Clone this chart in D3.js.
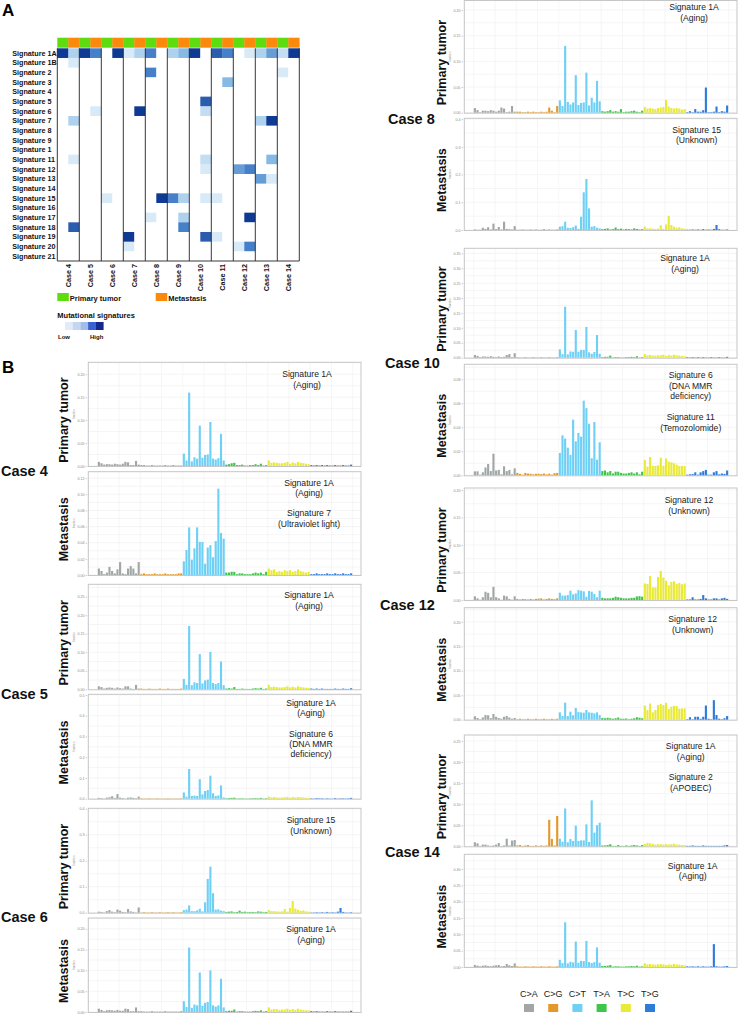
<!DOCTYPE html>
<html><head><meta charset="utf-8">
<script src="https://cdn.jsdelivr.net/npm/d3@7"></script>
<style>body{margin:0;background:#fff}svg{display:block;font-family:"Liberation Sans",Arial,sans-serif}</style>
</head><body>
<svg id="c" width="741" height="1023"></svg>
<script>
// ---------- DATA ----------
const sigNames = ["Signature 1A","Signature 1B","Signature 2","Signature 3","Signature 4","Signature 5","Signature 6","Signature 7","Signature 8","Signature 9","Signature 1","Signature 11","Signature 12","Signature 13","Signature 14","Signature 15","Signature 16","Signature 17","Signature 18","Signature 19","Signature 20","Signature 21"];
const caseNames = ["Case 4","Case 5","Case 6","Case 7","Case 8","Case 9","Case 10","Case 11","Case 12","Case 13","Case 14"];
const sampleTypes = ["Primary tumor","Metastasis"];
const heatLevels = [
 [5,2,5,4,0,5,1,2,4,0,2,3,5,0,4.5,4,0,1,2,3.5,1.5,5],
 [0,1,0,0,0,0,0,0,0,0,0,0,0,0,0,0,0,0,0,0,0,0],
 [0,0,0,0,0,0,0,0,4,0,0,0,0,0,0,0,0,0,0,0,1,0],
 [0,0,0,0,0,0,0,0,0,0,0,0,0,0,0,3,0,0,0,0,0,0],
 [0,0,0,0,0,0,0,0,0,0,0,0,0,0,0,0,0,0,0,0,0,0],
 [0,0,0,0,0,0,0,0,0,0,0,0,0,4.5,0,0,0,0,0,0,0,0],
 [0,0,0,1,0,0,0,5,0,0,0,0,0,1.5,0,0,0,0,0,0,0,0],
 [0,2,0,0,0,0,0,0,0,0,0,0,0,0,0,0,0,0,2,5,0,0],
 [0,0,0,0,0,0,0,0,0,0,0,0,0,0,0,0,0,0,0,0,0,0],
 [0,0,0,0,0,0,0,0,0,0,0,0,0,0,0,0,0,0,0,0,0,0],
 [0,0,0,0,0,0,0,0,0,0,0,0,0,0,0,0,0,0,0,0,0,0],
 [0,1,0,0,0,0,0,0,0,0,0,0,0,1.5,0,0,0,0,0,3,0,0],
 [0,0,0,0,0,0,0,0,0,0,0,0,0,1,0,0,3.5,4,0,0,0,0],
 [0,0,0,0,0,0,0,0,0,0,0,0,0,0,0,0,0,0,3.5,1,0,0],
 [0,0,0,0,0,0,0,0,0,0,0,0,0,0,0,0,0,0,0,0,0,0],
 [0,0,0,0,1,0,0,0,0,5,4,2,0,1,1,0,0,0,0,0,0,0],
 [0,0,0,0,0,0,0,0,0,0,0,0,0,0,0,0,0,0,0,0,0,0],
 [0,0,0,0,0,0,0,0,1,0,0,2,0,0,0,0,0,5,0,0,0,0],
 [0,4.5,0,0,0,0,0,0,0,0,0,4,0,0,0,0,0,0,0,0,0,0],
 [0,0,0,0,0,0,5,0,0,0,0,0,0,4.5,1,0,0,0,0,0,0,0],
 [0,0,0,0,0,0,1,0,0,0,0,0,0,0,0,0,1,4,0,0,0,0],
 [0,0,0,0,0,0,0,0,0,0,0,0,0,0,0,0,0,0,0,0,0,0]
];
const mutTypes = ["C>A","C>G","C>T","T>A","T>C","T>G"];

const c4p = [0.009,0.006,0.003,0.004,0.004,0.003,0.005,0.004,0.003,0.005,0.009,0.008,0.002,0.002,0.011,0.003,
 0.002,0.002,0.001,0.001,0.002,0.001,0.001,0.001,0.001,0.002,0.001,0.001,0.002,0.001,0.001,0.001,
 0.027,0.012,0.160,0.010,0.019,0.016,0.088,0.018,0.024,0.025,0.096,0.016,0.014,0.017,0.070,0.012,
 0.003,0.004,0.006,0.007,0.002,0.002,0.003,0.001,0.001,0.002,0.002,0.004,0.002,0.005,0.001,0.002,
 0.012,0.007,0.008,0.007,0.006,0.006,0.007,0.009,0.005,0.008,0.006,0.009,0.007,0.006,0.005,0.004,
 0.002,0.001,0.002,0.001,0.002,0.001,0.002,0.001,0.001,0.002,0.001,0.001,0.002,0.001,0.001,0.003];
const c4m = [0.008,0.005,0.001,0.003,0.010,0.005,0.002,0.007,0.016,0.002,0.001,0.008,0.011,0.008,0.002,0.016,
 0.001,0.002,0.001,0.001,0.001,0.002,0.001,0.001,0.001,0.002,0.001,0.001,0.001,0.001,0.002,0.002,
 0.017,0.031,0.059,0.019,0.033,0.059,0.041,0.041,0.014,0.034,0.037,0.022,0.042,0.107,0.052,0.045,
 0.003,0.003,0.004,0.004,0.001,0.002,0.002,0.001,0.001,0.001,0.002,0.003,0.002,0.003,0.001,0.004,
 0.008,0.006,0.007,0.004,0.005,0.004,0.006,0.005,0.006,0.004,0.005,0.007,0.005,0.004,0.003,0.004,
 0.001,0.001,0.002,0.001,0.001,0.001,0.002,0.001,0.001,0.002,0.001,0.001,0.002,0.001,0.001,0.002];
const c5p = [0.008,0.006,0.002,0.004,0.005,0.004,0.002,0.005,0.003,0.002,0.008,0.008,0.002,0.001,0.012,0.002,
 0.002,0.001,0.001,0.002,0.001,0.001,0.001,0.002,0.001,0.001,0.002,0.001,0.001,0.001,0.001,0.002,
 0.028,0.012,0.171,0.011,0.019,0.017,0.095,0.016,0.024,0.026,0.101,0.017,0.014,0.017,0.075,0.011,
 0.002,0.003,0.002,0.006,0.001,0.001,0.002,0.001,0.001,0.001,0.002,0.003,0.002,0.004,0.001,0.002,
 0.012,0.006,0.007,0.006,0.005,0.005,0.006,0.008,0.005,0.007,0.005,0.008,0.006,0.005,0.004,0.004,
 0.002,0.001,0.002,0.001,0.002,0.001,0.001,0.001,0.001,0.002,0.001,0.001,0.002,0.001,0.001,0.003];
const c5m = [0.004,0.003,0.001,0.005,0.007,0.012,0.004,0.022,0.005,0.003,0.001,0.005,0.006,0.004,0.002,0.010,
 0.002,0.001,0.001,0.002,0.001,0.001,0.002,0.001,0.001,0.001,0.002,0.001,0.001,0.001,0.001,0.002,
 0.030,0.010,0.143,0.013,0.015,0.013,0.094,0.021,0.037,0.042,0.111,0.026,0.013,0.016,0.064,0.006,
 0.002,0.003,0.004,0.005,0.001,0.002,0.002,0.001,0.001,0.002,0.002,0.003,0.002,0.004,0.001,0.002,
 0.010,0.006,0.008,0.006,0.005,0.006,0.007,0.009,0.005,0.008,0.006,0.008,0.007,0.006,0.005,0.004,
 0.002,0.001,0.003,0.002,0.002,0.001,0.002,0.001,0.001,0.003,0.001,0.002,0.002,0.001,0.002,0.004];
const c6p = [0.004,0.003,0.001,0.006,0.010,0.004,0.002,0.012,0.008,0.003,0.002,0.014,0.005,0.003,0.001,0.020,
 0.001,0.002,0.001,0.001,0.002,0.001,0.001,0.002,0.001,0.001,0.002,0.001,0.002,0.001,0.001,0.002,
 0.010,0.012,0.028,0.006,0.006,0.009,0.015,0.005,0.040,0.130,0.177,0.075,0.012,0.013,0.008,0.006,
 0.003,0.004,0.005,0.002,0.003,0.008,0.003,0.004,0.002,0.003,0.003,0.002,0.005,0.004,0.002,0.003,
 0.010,0.006,0.006,0.005,0.004,0.005,0.014,0.004,0.018,0.045,0.016,0.011,0.007,0.009,0.005,0.004,
 0.001,0.001,0.002,0.001,0.002,0.001,0.003,0.001,0.002,0.001,0.004,0.018,0.003,0.001,0.001,0.002];
const c6m = [0.008,0.005,0.002,0.004,0.005,0.004,0.003,0.005,0.003,0.003,0.008,0.007,0.002,0.002,0.011,0.002,
 0.002,0.001,0.001,0.001,0.002,0.001,0.001,0.001,0.001,0.002,0.001,0.001,0.001,0.001,0.001,0.002,
 0.026,0.012,0.155,0.010,0.018,0.016,0.095,0.015,0.022,0.024,0.100,0.016,0.013,0.016,0.080,0.011,
 0.002,0.003,0.003,0.006,0.001,0.002,0.002,0.001,0.001,0.001,0.002,0.003,0.002,0.004,0.001,0.002,
 0.011,0.006,0.007,0.007,0.005,0.006,0.006,0.008,0.005,0.007,0.005,0.008,0.006,0.005,0.004,0.004,
 0.002,0.001,0.002,0.001,0.001,0.001,0.002,0.001,0.001,0.002,0.001,0.001,0.001,0.001,0.001,0.003];
const c8p = [0.009,0.005,0.001,0.004,0.004,0.003,0.005,0.004,0.002,0.004,0.010,0.008,0.001,0.002,0.013,0.002,
 0.002,0.002,0.001,0.001,0.002,0.001,0.002,0.001,0.001,0.002,0.001,0.002,0.010,0.004,0.001,0.013,
 0.024,0.013,0.130,0.021,0.016,0.020,0.073,0.015,0.019,0.020,0.078,0.014,0.029,0.020,0.062,0.022,
 0.003,0.002,0.003,0.005,0.002,0.003,0.002,0.007,0.001,0.002,0.002,0.003,0.004,0.002,0.001,0.004,
 0.011,0.008,0.009,0.008,0.007,0.009,0.010,0.011,0.025,0.012,0.009,0.008,0.009,0.008,0.006,0.007,
 0.001,0.003,0.001,0.007,0.002,0.002,0.005,0.049,0.001,0.001,0.002,0.012,0.001,0.003,0.002,0.014];
const c8m = [0.002,0.001,0.001,0.008,0.004,0.010,0.002,0.023,0.003,0.011,0.002,0.030,0.004,0.003,0.002,0.014,
 0.001,0.001,0.002,0.001,0.001,0.002,0.001,0.002,0.001,0.001,0.003,0.001,0.002,0.001,0.001,0.002,
 0.012,0.014,0.030,0.008,0.007,0.010,0.016,0.004,0.048,0.136,0.184,0.078,0.012,0.014,0.008,0.006,
 0.003,0.004,0.006,0.002,0.003,0.009,0.003,0.005,0.002,0.004,0.003,0.002,0.006,0.004,0.002,0.003,
 0.012,0.006,0.006,0.005,0.004,0.005,0.017,0.004,0.020,0.051,0.018,0.012,0.008,0.010,0.006,0.005,
 0.001,0.001,0.002,0.001,0.002,0.001,0.003,0.001,0.002,0.001,0.004,0.018,0.003,0.001,0.001,0.002];
const c10p = [0.009,0.006,0.002,0.004,0.004,0.003,0.005,0.003,0.002,0.004,0.002,0.003,0.009,0.012,0.002,0.015,
 0.002,0.001,0.001,0.002,0.001,0.001,0.002,0.001,0.001,0.002,0.001,0.001,0.002,0.001,0.001,0.002,
 0.028,0.012,0.171,0.011,0.021,0.020,0.093,0.020,0.026,0.026,0.103,0.018,0.013,0.019,0.076,0.013,
 0.002,0.003,0.003,0.007,0.001,0.002,0.002,0.001,0.001,0.002,0.002,0.003,0.002,0.005,0.001,0.002,
 0.012,0.008,0.009,0.007,0.007,0.008,0.008,0.010,0.006,0.009,0.007,0.010,0.008,0.007,0.006,0.005,
 0.002,0.001,0.002,0.001,0.002,0.001,0.002,0.001,0.001,0.002,0.001,0.001,0.002,0.001,0.001,0.003];
const c10m = [0.0033,0.0033,0.0005,0.0025,0.0065,0.0094,0.0035,0.018,0.004,0.0045,0.0008,0.0075,0.0035,0.0045,0.0008,0.0058,
 0.002,0.0012,0.0005,0.002,0.0015,0.0013,0.0008,0.0012,0.0013,0.001,0.0015,0.0008,0.0013,0.0006,0.0018,0.002,
 0.0186,0.0333,0.0306,0.023,0.017,0.0464,0.0283,0.0353,0.0322,0.0622,0.056,0.043,0.0142,0.0444,0.013,0.0275,
 0.0035,0.004,0.0025,0.0035,0.0015,0.003,0.003,0.002,0.0015,0.0015,0.002,0.0025,0.0015,0.0025,0.0008,0.003,
 0.0128,0.0072,0.0153,0.008,0.0078,0.0083,0.0147,0.008,0.014,0.0114,0.0108,0.010,0.0089,0.0078,0.0078,0.0078,
 0.0005,0.0008,0.001,0.0025,0.0005,0.0025,0.0035,0.0045,0.0005,0.0005,0.0025,0.0035,0.0008,0.0015,0.0012,0.004];
const c12p = [0.0067,0.003,0.0005,0.005,0.015,0.013,0.005,0.024,0.005,0.003,0.0005,0.008,0.0067,0.002,0.0005,0.0067,
 0.002,0.001,0.002,0.0015,0.001,0.002,0.001,0.002,0.0025,0.003,0.001,0.002,0.003,0.002,0.0015,0.003,
 0.0133,0.008,0.008,0.009,0.017,0.0103,0.012,0.018,0.017,0.0158,0.006,0.0164,0.015,0.011,0.005,0.017,
 0.004,0.003,0.003,0.003,0.004,0.006,0.005,0.004,0.003,0.003,0.003,0.004,0.004,0.0065,0.007,0.006,
 0.030,0.029,0.0436,0.023,0.023,0.042,0.053,0.041,0.035,0.0267,0.033,0.034,0.029,0.031,0.0285,0.030,
 0.001,0.001,0.005,0.001,0.001,0.002,0.009,0.003,0.001,0.001,0.003,0.003,0.001,0.003,0.004,0.002];
const c12m = [0.007,0.0035,0.001,0.0045,0.0095,0.009,0.003,0.0116,0.006,0.0035,0.002,0.006,0.0075,0.0045,0.002,0.0035,
 0.001,0.002,0.001,0.001,0.002,0.001,0.001,0.002,0.001,0.001,0.002,0.001,0.001,0.002,0.001,0.002,
 0.015,0.008,0.035,0.0075,0.0163,0.009,0.024,0.0156,0.015,0.0143,0.020,0.015,0.0143,0.013,0.015,0.0095,
 0.0035,0.003,0.004,0.003,0.002,0.003,0.0045,0.002,0.002,0.0025,0.001,0.002,0.003,0.005,0.004,0.003,
 0.029,0.020,0.033,0.015,0.020,0.030,0.032,0.030,0.0347,0.022,0.0265,0.0286,0.028,0.0224,0.023,0.023,
 0.001,0.005,0.001,0.006,0.006,0.002,0.006,0.029,0.002,0.001,0.040,0.0095,0.002,0.001,0.003,0.0075];
const c14p = [0.0095,0.007,0.001,0.004,0.004,0.002,0.001,0.002,0.004,0.008,0.001,0.002,0.018,0.002,0.0135,0.015,
 0.002,0.003,0.001,0.002,0.003,0.001,0.001,0.002,0.001,0.002,0.001,0.002,0.063,0.0175,0.002,0.072,
 0.018,0.011,0.0897,0.0095,0.0175,0.0127,0.049,0.0127,0.014,0.014,0.052,0.0103,0.109,0.0325,0.050,0.056,
 0.002,0.002,0.003,0.005,0.001,0.001,0.003,0.001,0.001,0.002,0.001,0.002,0.003,0.002,0.001,0.003,
 0.006,0.008,0.007,0.006,0.004,0.005,0.005,0.004,0.005,0.004,0.005,0.006,0.004,0.004,0.003,0.003,
 0.001,0.001,0.002,0.001,0.001,0.001,0.002,0.001,0.001,0.001,0.001,0.001,0.001,0.001,0.002,0.003];
const c14m = [0.006,0.004,0.002,0.004,0.005,0.003,0.002,0.004,0.005,0.006,0.002,0.003,0.009,0.005,0.003,0.011,
 0.002,0.001,0.001,0.002,0.001,0.001,0.002,0.001,0.001,0.002,0.001,0.001,0.002,0.001,0.001,0.002,
 0.022,0.012,0.137,0.011,0.016,0.014,0.078,0.013,0.019,0.018,0.080,0.015,0.012,0.015,0.060,0.013,
 0.003,0.003,0.004,0.006,0.001,0.002,0.002,0.001,0.001,0.002,0.002,0.003,0.002,0.004,0.001,0.002,
 0.011,0.008,0.009,0.008,0.007,0.008,0.009,0.008,0.006,0.008,0.007,0.009,0.008,0.007,0.006,0.005,
 0.002,0.001,0.002,0.001,0.002,0.001,0.002,0.001,0.001,0.002,0.070,0.002,0.001,0.001,0.002,0.003];

// ---------- STYLE / LAYOUT ----------
const mutColors = ["#a1a6a6","#e39a2b","#6fd0f6","#3ec64a","#e9e937","#2e7cda"];
const heatColor = d3.scaleLinear().domain([0,1,2,3,4,5]).range(["#ffffff","#d8e9f7","#aed1ee","#86b9e3","#4580c8","#0f3a94"]);
const typeColors = ["#5ddc10","#fb8a0c"];
const gradColors = ["#ffffff","#e2ebf8","#c4d6f1","#a1bee9","#3a60d5","#16298a"];

const L = {x0:88.3, x1:361, lx:63.5}, R = {x0:464.3, x1:737, lx:441.5};
const panels = [
 {col:L, data:c4p, type:0, top:362.3, base:466, ticks:[0,.05,.1,.15,.2], dmax:.226, fmt:".2f", text:["Signature 1A","(Aging)"], ty:[374,384.5], cx:307},
 {col:L, data:c4m, type:1, top:471.7, base:575, ticks:[0,.02,.04,.06,.08,.1,.12], dmax:.128, fmt:".2f", text:["Signature 1A","(Aging)","Signature 7","(Ultraviolet light)"], ty:[482.7,493,513,524], cx:309},
 {col:L, data:c5p, type:0, top:584.3, base:689.3, ticks:[0,.05,.1,.15,.2,.25], dmax:.2835, fmt:".2f", text:["Signature 1A","(Aging)"], ty:[595,605.5], cx:309},
 {col:L, data:c5m, type:1, top:694.3, base:798.7, ticks:[0,.1,.2,.3,.4,.5], dmax:.503, fmt:".1f", text:["Signature 1A","(Aging)","Signature 6","(DNA MMR","deficiency)"], ty:[702.7,713.3,734,744.3,754.3], cx:311},
 {col:L, data:c6p, type:0, top:808.3, base:912.7, ticks:[0,.1,.2,.3,.4], dmax:.4015, fmt:".1f", text:["Signature 15","(Unknown)"], ty:[820,830.7], cx:311},
 {col:L, data:c6m, type:1, top:918, base:1012, ticks:[0,.05,.1,.15,.2], dmax:.226, fmt:".2f", text:["Signature 1A","(Aging)"], ty:[929,939.5], cx:311},
 {col:R, data:c8p, type:0, top:0.5, base:112.7, ticks:[0,.05,.1,.15,.2], dmax:.2185, fmt:".2f", text:["Signature 1A","(Aging)"], ty:[7.3,17.5], cx:694},
 {col:R, data:c8m, type:1, top:118.3, base:230, ticks:[0,.1,.2,.3,.4], dmax:.403, fmt:".1f", text:["Signature 15","(Unknown)"], ty:[130,140.3], cx:696.7},
 {col:R, data:c10p, type:0, top:248.3, base:357.7, ticks:[0,.05,.1,.15,.2,.25,.3,.35], dmax:.367, fmt:".2f", text:["Signature 1A","(Aging)"], ty:[258.3,269], cx:685},
 {col:R, data:c10m, type:1, top:364.3, base:475.3, ticks:[0,.02,.04,.06,.08], dmax:.0925, fmt:".2f", text:["Signature 6","(DNA MMR","deficiency)","Signature 11","(Temozolomide)"], ty:[375,385.7,396.3,416.7,427.7], cx:690.7},
 {col:R, data:c12p, type:0, top:488, base:600, ticks:[0,.05,.1,.15,.2], dmax:.2036, fmt:".2f", text:["Signature 12","(Unknown)"], ty:[500,510.7], cx:689},
 {col:R, data:c12m, type:1, top:607.7, base:719.7, ticks:[0,.05,.1,.15,.2], dmax:.229, fmt:".2f", text:["Signature 12","(Unknown)"], ty:[619,630], cx:692.7},
 {col:R, data:c14p, type:0, top:735, base:846.3, ticks:[0,.05,.1,.15,.2,.25], dmax:.264, fmt:".2f", text:["Signature 1A","(Aging)","Signature 2","(APOBEC)"], ty:[746,756.7,777.3,787.7], cx:690.7},
 {col:R, data:c14m, type:1, top:854.3, base:967, ticks:[0,.05,.1,.15,.2,.25,.3], dmax:.345, fmt:".2f", text:["Signature 1A","(Aging)"], ty:[865.7,875.7], cx:692.7}
];
const caseLabels = [
 {t:"Case 4", x:1, y:471}, {t:"Case 5", x:1, y:694}, {t:"Case 6", x:1, y:917},
 {t:"Case 8", x:388, y:118.5}, {t:"Case 10", x:385, y:363.3}, {t:"Case 12", x:380, y:605.3}, {t:"Case 14", x:385, y:852}
];

const svg = d3.select("#c");

// ---------- PANEL A: HEATMAP ----------
svg.append("text").attr("x",2).attr("y",15.5).attr("font-size",17).attr("font-weight","bold").text("A");
const hx = d3.scaleBand().domain(d3.range(22)).range([57.3,299.3]);
const hy = d3.scaleBand().domain(d3.range(sigNames.length)).range([48.3,261]);
const hA = svg.append("g");
hA.selectAll("rect.hdr").data(d3.range(22)).join("rect").attr("class","hdr")
  .attr("x",d=>hx(d)).attr("y",37.7).attr("width",hx.bandwidth()+0.3).attr("height",10)
  .attr("fill",d=>typeColors[d%2]);
heatLevels.forEach((row,ri)=>{
  hA.selectAll(null).data(row).join("rect")
    .attr("x",(d,ci)=>hx(ci)).attr("y",hy(ri)).attr("width",hx.bandwidth()+0.3).attr("height",hy.bandwidth()+0.3)
    .attr("fill",d=>heatColor(d));
});
hA.selectAll("line.case").data(d3.range(12)).join("line")
  .attr("x1",d=>57.3+d*22).attr("x2",d=>57.3+d*22).attr("y1",48.3).attr("y2",261)
  .attr("stroke","#222").attr("stroke-width",0.9);
hA.append("line").attr("x1",57.3).attr("x2",299.3).attr("y1",261).attr("y2",261).attr("stroke","#222").attr("stroke-width",0.9);
hA.selectAll("text.sig").data(sigNames).join("text")
  .attr("x",12.3).attr("y",(d,i)=>hy(i)+hy.bandwidth()/2).attr("dy","0.35em")
  .attr("font-size",7.2).attr("font-weight","bold").attr("fill","#111").text(d=>d);
hA.selectAll("text.case").data(caseNames).join("text")
  .attr("transform",(d,i)=>`translate(${57.3+i*22+11},264) rotate(-90)`)
  .attr("dy","0.35em").attr("text-anchor","end")
  .attr("font-size",7.2).attr("font-weight","bold").attr("fill","#111").text(d=>d);
// legend
[{x:57.3},{x:155.7}].forEach((o,i)=>{
  hA.append("rect").attr("x",o.x).attr("y",293).attr("width",11.5).attr("height",8).attr("fill",typeColors[i]);
  hA.append("text").attr("x",o.x+12.5).attr("y",300.5).attr("font-size",7.5).attr("font-weight","bold").attr("fill","#111").text(sampleTypes[i]);
});
hA.append("text").attr("x",57.3).attr("y",318).attr("font-size",7.5).attr("font-weight","bold").attr("fill","#111").text("Mutational signatures");
hA.selectAll("rect.grad").data(gradColors).join("rect")
  .attr("x",(d,i)=>57.3+i*7.7).attr("y",322).attr("width",7.8).attr("height",8).attr("fill",d=>d);
hA.append("text").attr("x",58).attr("y",338.5).attr("font-size",6).attr("font-weight","bold").attr("fill","#111").text("Low");
hA.append("text").attr("x",90).attr("y",338.5).attr("font-size",6).attr("font-weight","bold").attr("fill","#111").text("High");

// ---------- PANEL B: SPECTRA ----------
svg.append("text").attr("x",2).attr("y",373).attr("font-size",17).attr("font-weight","bold").text("B");

function drawPanel(p){
  const c = p.col;
  const g = svg.append("g");
  const x = d3.scaleBand().domain(d3.range(96)).range([c.x0+9.5, c.x1-8.8]).paddingInner(0.2);
  const y = d3.scaleLinear().domain([0,p.dmax]).range([p.base,p.top]);
  // faint grid
  const step = p.ticks[1]/2;
  const hg = d3.range(0, p.dmax, step);
  g.selectAll("line.hg").data(hg).join("line")
    .attr("x1",c.x0).attr("x2",c.x1).attr("y1",d=>y(d)).attr("y2",d=>y(d))
    .attr("stroke","#efefef").attr("stroke-width",0.6);
  g.selectAll("line.vg").data(d3.range(0,97,8)).join("line")
    .attr("x1",d=>x(Math.min(d,95))+(d===96?x.step():0)).attr("x2",d=>x(Math.min(d,95))+(d===96?x.step():0))
    .attr("y1",p.top).attr("y2",p.base).attr("stroke","#f0f0f0").attr("stroke-width",0.6);
  // frame
  g.append("rect").attr("x",c.x0).attr("y",p.top).attr("width",c.x1-c.x0).attr("height",p.base-p.top+0.5)
    .attr("fill","none").attr("stroke","#c6c6c6").attr("stroke-width",1);
  // axis
  const ax = d3.axisLeft(y).tickValues(p.ticks).tickFormat(d3.format(p.fmt)).tickSize(1.5).tickPadding(1);
  const ag = g.append("g").attr("transform",`translate(${c.x0-1.2},0)`).call(ax);
  ag.select(".domain").remove();
  ag.selectAll("line").attr("stroke","#999").attr("stroke-width",0.5);
  ag.selectAll("text").attr("font-size",3.6).attr("fill","#888").attr("font-family","Liberation Sans, Arial");
  g.append("text").attr("transform",`translate(${c.x0-13},${(p.top+p.base)/2}) rotate(-90)`)
    .attr("text-anchor","middle").attr("font-size",3).attr("fill","#999").text("fraction");
  // bars
  g.selectAll("rect.bar").data(p.data).join("rect").attr("class","bar")
    .attr("x",(d,i)=>x(i)).attr("y",d=>y(d)).attr("width",x.bandwidth()).attr("height",d=>p.base-y(d))
    .attr("fill",(d,i)=>mutColors[Math.floor(i/16)]);
  // side label
  g.append("text").attr("transform",`translate(${c.lx},${(p.top+p.base)/2+6}) rotate(-90)`)
    .attr("text-anchor","middle").attr("dy","0.35em").attr("font-size",12.5).attr("font-weight","bold").attr("fill","#111")
    .text(sampleTypes[p.type]);
  // signature text
  g.selectAll("text.sg").data(p.text).join("text")
    .attr("x",p.cx).attr("y",(d,i)=>p.ty[i]).attr("dy","0.35em").attr("text-anchor","middle")
    .attr("font-size",8.6).attr("fill","#222").text(d=>d);
}
panels.forEach(drawPanel);

svg.selectAll("text.caselab").data(caseLabels).join("text")
  .attr("x",d=>d.x).attr("y",d=>d.y).attr("dy","0.35em")
  .attr("font-size",14.5).attr("font-weight","bold").attr("fill","#111").text(d=>d.t);

// mutation type legend
const lgX = d3.scalePoint().domain(mutTypes).range([529,650]);
const lg = svg.append("g");
lg.selectAll("text").data(mutTypes).join("text")
  .attr("x",d=>lgX(d)).attr("y",997).attr("text-anchor","middle").attr("font-size",9).attr("fill","#222").text(d=>d);
lg.selectAll("rect").data(mutTypes).join("rect")
  .attr("x",d=>lgX(d)-5).attr("y",1004).attr("width",10).attr("height",8).attr("fill",(d,i)=>mutColors[i]);
</script>
</body></html>
